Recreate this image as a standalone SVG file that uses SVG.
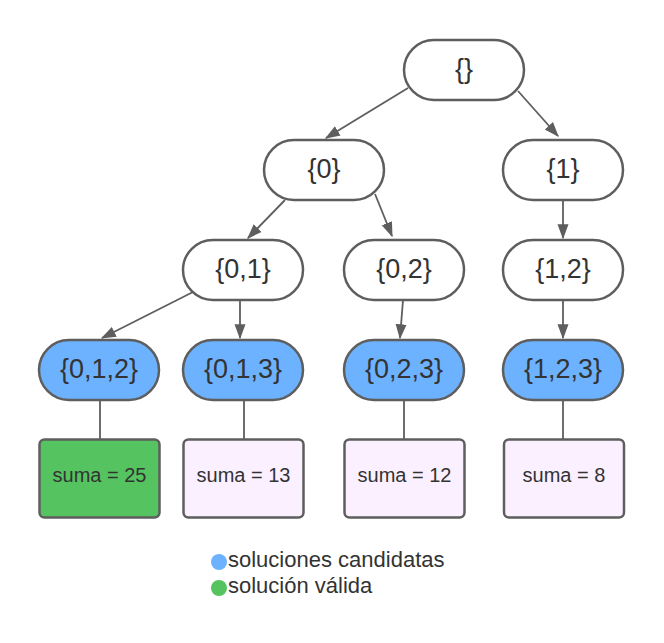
<svg xmlns="http://www.w3.org/2000/svg" width="664" height="643" viewBox="0 0 664 643">
<defs>
<marker id="a" viewBox="0 0 12 12" refX="11" refY="6" markerWidth="15" markerHeight="15" markerUnits="userSpaceOnUse" orient="auto"><path d="M0,1.6 L12,6 L0,10.4 z" fill="#5e5e5e"/></marker>
</defs>
<style>
.pill{fill:#ffffff;stroke:#5e5e5e;stroke-width:2.5}
.cand{fill:#6db2ff;stroke:#5e5e5e;stroke-width:2.5}
.ok{fill:#55c35f;stroke:#5e5e5e;stroke-width:2.5}
.sum{fill:#fbf0ff;stroke:#5e5e5e;stroke-width:2.5}
.t{font-family:"Liberation Sans",Arial,sans-serif;font-size:27px;fill:#333333;text-anchor:middle}
.s{font-family:"Liberation Sans",Arial,sans-serif;font-size:20px;fill:#333333;text-anchor:middle}
.l{font-family:"Liberation Sans",Arial,sans-serif;font-size:22px;fill:#333333}
.e{stroke:#5e5e5e;stroke-width:1.8;fill:none}
.ea{stroke:#5e5e5e;stroke-width:1.8;fill:none;marker-end:url(#a)}
</style>
<rect width="664" height="643" fill="#ffffff"/>
<g id="connectors">
<line class="ea" x1="408" y1="88" x2="326" y2="138"/>
<line class="ea" x1="518" y1="91" x2="558" y2="136"/>
<line class="ea" x1="285" y1="200" x2="248" y2="238"/>
<line class="ea" x1="375" y1="194" x2="392" y2="236"/>
<line class="ea" x1="563" y1="200" x2="563" y2="238"/>
<line class="ea" x1="193" y1="292" x2="102" y2="338"/>
<line class="ea" x1="240" y1="300" x2="240" y2="338"/>
<line class="ea" x1="403" y1="300" x2="400" y2="338"/>
<line class="ea" x1="563" y1="300" x2="563" y2="338"/>
<line class="e" x1="100" y1="400" x2="100" y2="440"/>
<line class="e" x1="244" y1="400" x2="244" y2="440"/>
<line class="e" x1="404" y1="400" x2="404" y2="440"/>
<line class="e" x1="563" y1="400" x2="563" y2="440"/>
</g>
<g id="n-root"><rect class="pill" x="404" y="40" width="120" height="60" rx="30"/><text class="t" x="464" y="78">{}</text></g>
<g id="n-0"><rect class="pill" x="264" y="140" width="120" height="60" rx="30"/><text class="t" x="324" y="178">{0}</text></g>
<g id="n-1"><rect class="pill" x="503" y="140" width="120" height="60" rx="30"/><text class="t" x="563" y="178">{1}</text></g>
<g id="n-01"><rect class="pill" x="183" y="240" width="120" height="60" rx="30"/><text class="t" x="243" y="278">{0,1}</text></g>
<g id="n-02"><rect class="pill" x="344" y="240" width="120" height="60" rx="30"/><text class="t" x="404" y="278">{0,2}</text></g>
<g id="n-12"><rect class="pill" x="503" y="240" width="120" height="60" rx="30"/><text class="t" x="563" y="278">{1,2}</text></g>
<g id="n-012"><rect class="cand" x="39" y="340" width="120" height="60" rx="30"/><text class="t" x="99" y="378">{0,1,2}</text></g>
<g id="n-013"><rect class="cand" x="183" y="340" width="120" height="60" rx="30"/><text class="t" x="243" y="378">{0,1,3}</text></g>
<g id="n-023"><rect class="cand" x="344" y="340" width="120" height="60" rx="30"/><text class="t" x="404" y="378">{0,2,3}</text></g>
<g id="n-123"><rect class="cand" x="503" y="340" width="120" height="60" rx="30"/><text class="t" x="563" y="378">{1,2,3}</text></g>
<g id="s-012"><rect class="ok" x="39.5" y="439.5" width="120" height="78" rx="5"/><text class="s" x="99.5" y="482">suma = 25</text></g>
<g id="s-013"><rect class="sum" x="183.5" y="439.5" width="120" height="78" rx="5"/><text class="s" x="243.5" y="482">suma = 13</text></g>
<g id="s-023"><rect class="sum" x="344.5" y="439.5" width="120" height="78" rx="5"/><text class="s" x="404.5" y="482">suma = 12</text></g>
<g id="s-123"><rect class="sum" x="504" y="439.5" width="120" height="78" rx="5"/><text class="s" x="564" y="482">suma = 8</text></g>
<g id="legend">
<circle cx="219" cy="562" r="8" fill="#6db2ff"/>
<text class="l" x="228" y="567">soluciones candidatas</text>
<circle cx="219" cy="588" r="8" fill="#55c35f"/>
<text class="l" x="228" y="593">solución válida</text>
</g>
</svg>
